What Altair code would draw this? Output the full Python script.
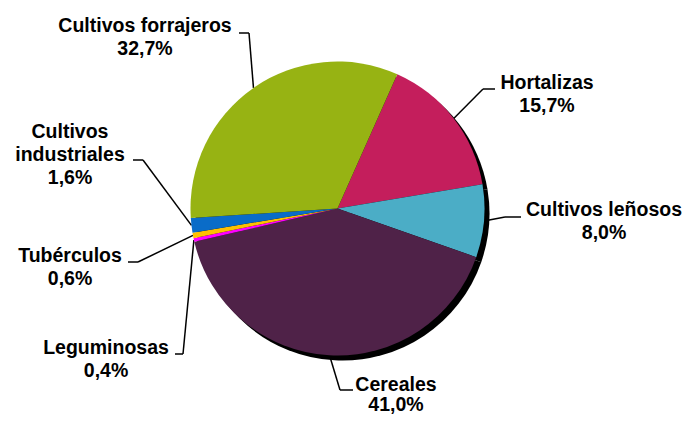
import math
import altair as alt
import pandas as pd

# ---- data ----
categories = ["Hortalizas", "Cultivos leñosos", "Cereales", "Leguminosas",
              "Tubérculos", "Cultivos industriales", "Cultivos forrajeros"]
label_names = ["Hortalizas", "Cultivos leñosos", "Cereales", "Leguminosas",
               "Tubérculos", "Cultivos\nindustriales", "Cultivos forrajeros"]
values = [15.7, 8.0, 41.0, 0.4, 0.6, 1.6, 32.7]

# ---- styles ----
colors = ["#C41E5C", "#4BADC6", "#4F2248", "#FF00FF", "#FFC000", "#0A6CC8", "#97B313"]

# ---- layout (chart pixel coordinates) ----
CX, CY, R = 329.5, 200.5, 147
SHADOW = 5
START = math.radians(24)
label_x = [539, 596, 388, 98, 62, 62, 137]
label_y = [81, 208, 383, 346, 254, 130, 24]
line_h = [23, 23, 20, 23, 23, 23, 23]
elbow_x = [475, 497, 332, 175, 130, 135, 241]
elbow_y = [81, 209, 382, 346, 254, 152, 25]
end_x = [487, 513, 345, 167, 120, 125, 231]
end_y = [81, 209, 382, 346, 254, 152, 25]

fmt = [f"{v:.1f}".replace(".", ",") + "%" for v in values]
df = pd.DataFrame({
    "category": categories,
    "value": values,
    "order": list(range(len(values))),
    "name": label_names,
    "pct": fmt,
    "lx": label_x, "ly": label_y, "lh": line_h,
    "bx": elbow_x, "by": elbow_y,
    "qx": end_x, "qy": end_y,
})

base = alt.Chart(df)

geo = base.transform_window(
    cum="sum(value)", sort=[alt.SortField("order", order="ascending")], frame=[None, 0]
).transform_joinaggregate(total="sum(value)").transform_calculate(
    mid=f"{START} + 2*PI*(datum.cum - datum.value/2)/datum.total",
    ex=f"{CX} + {R}*sin(datum.mid)",
    ey=f"{CY} - {R}*cos(datum.mid)",
)

lead1 = geo.mark_rule(color="black", strokeWidth=1.5).encode(
    x=alt.X("ex:Q", scale=None), y=alt.Y("ey:Q", scale=None),
    x2="bx:Q", y2="by:Q")
lead2 = base.mark_rule(color="black", strokeWidth=1.5).encode(
    x=alt.X("bx:Q", scale=None), y=alt.Y("by:Q", scale=None),
    x2="qx:Q", y2="qy:Q")

theta = alt.Theta("value:Q", stack=True,
                  scale=alt.Scale(range=[START, START + 2 * math.pi]))

shadow = base.mark_arc(outerRadius=R, color="black").encode(
    theta=theta, order=alt.Order("order:Q"),
    x=alt.value(CX + SHADOW), y=alt.value(CY + SHADOW))

pie = base.mark_arc(outerRadius=R).encode(
    theta=theta, order=alt.Order("order:Q"),
    color=alt.Color("category:N", scale=alt.Scale(domain=categories, range=colors), legend=None),
    x=alt.value(CX), y=alt.value(CY))

txt = dict(font="Liberation Sans", fontWeight="bold", fontSize=19.5, color="black",
           align="center", baseline="alphabetic", lineBreak="\n", lineHeight=23)

names = base.mark_text(**txt).encode(
    x=alt.X("lx:Q", scale=None), y=alt.Y("ly:Q", scale=None), text="name:N")

pcts = base.transform_calculate(
    py="datum.ly + datum.lh * (1 + (indexof(datum.name, '\\n') >= 0 ? 1 : 0))"
).mark_text(**txt).encode(
    x=alt.X("lx:Q", scale=None), y=alt.Y("py:Q", scale=None), text="pct:N")

chart = alt.layer(lead1, lead2, shadow, pie, names, pcts).properties(
    width=675, height=408,
    autosize=alt.AutoSizeParams(type="none"),
    padding=0,
).configure_view(stroke=None)

chart.save("out.html", embed_options={"renderer": "svg", "actions": False})
